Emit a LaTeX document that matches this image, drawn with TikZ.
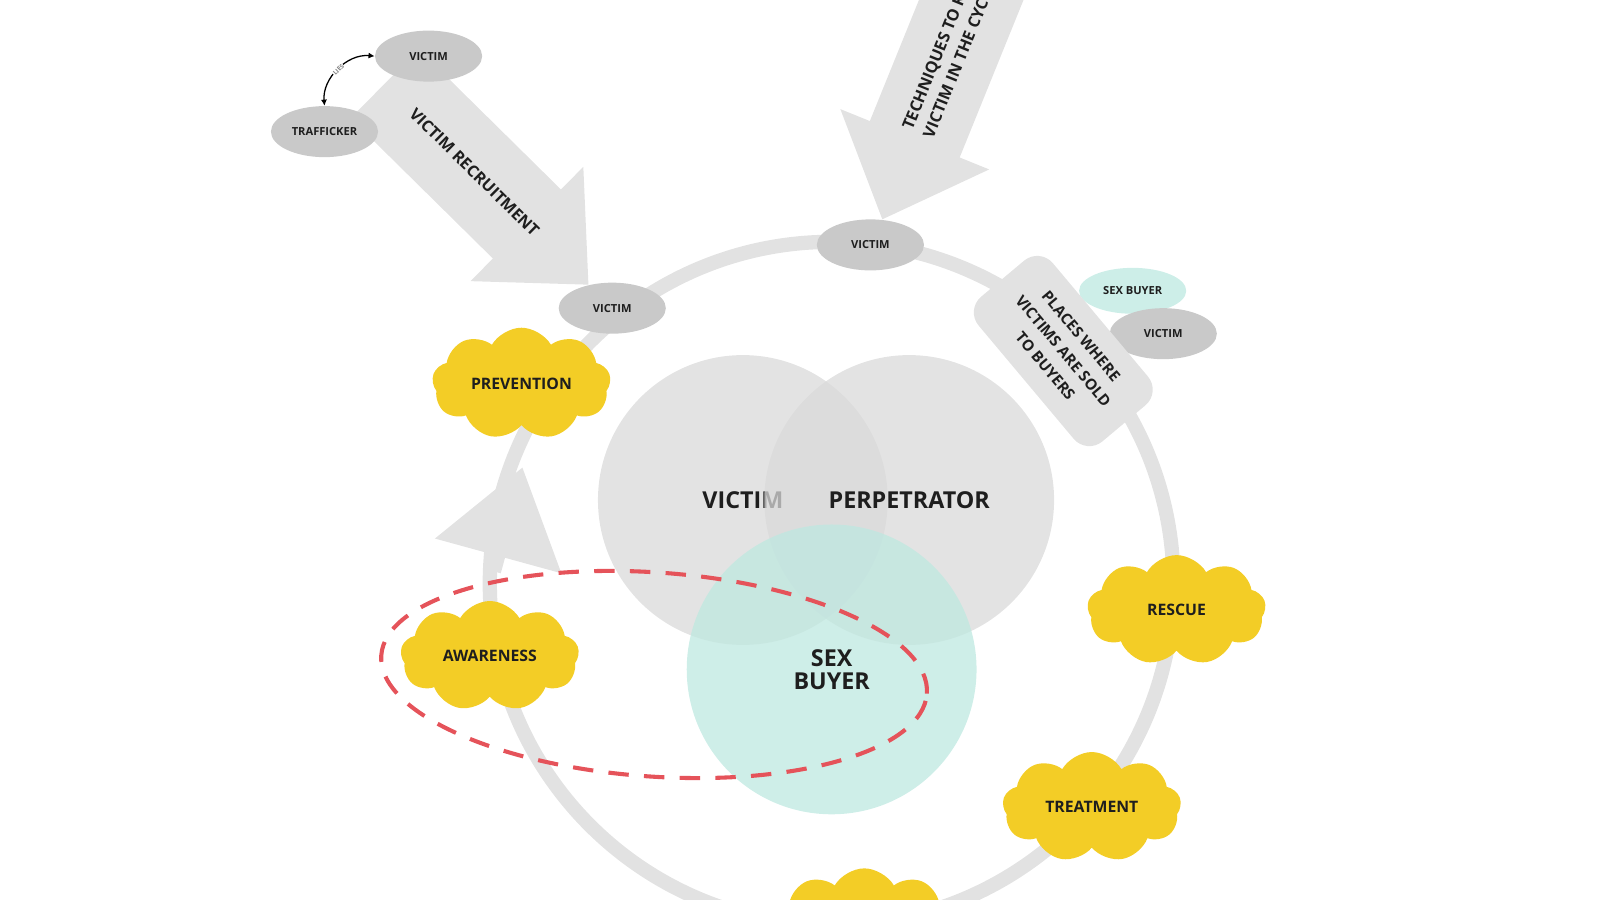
\documentclass[tikz,border=0pt]{standalone}
\usepackage{fontspec}
\setmainfont{Open Sans}
\usetikzlibrary{shapes.geometric,shapes.symbols,arrows.meta,backgrounds}
\definecolor{ringgray}{RGB}{226,226,226}
\definecolor{pillgray}{RGB}{201,201,201}
\definecolor{venngray}{RGB}{218,218,218}
\definecolor{vennteal}{RGB}{190,232,224}
\definecolor{pillteal}{RGB}{205,238,232}
\definecolor{cloudyellow}{RGB}{243,205,38}
\definecolor{dashred}{RGB}{229,83,90}
\definecolor{inkdark}{RGB}{30,30,30}

\begin{document}
\begin{tikzpicture}[x=0.2mm,y=-0.2mm,
    pill/.style={ellipse,fill=pillgray,minimum width=21mm,minimum height=10mm,inner sep=0pt,
        font=\fontsize{6.2}{7}\selectfont\bfseries,text=inkdark},
    puff/.style={cloud,cloud puffs=9,cloud puff arc=120,aspect=1.6,fill=cloudyellow,
        minimum width=35mm,minimum height=21.6mm,inner sep=0pt,
        font=\fontsize{8.8}{10}\selectfont\bfseries,text=inkdark},
    venn/.style={circle,minimum size=56.8mm,inner sep=0pt,fill opacity=0.75,text opacity=1,
        font=\fontsize{13}{15}\selectfont\bfseries,text=inkdark},
    ringline/.style={ringgray,line width=2.8mm},
    bigarrow/.style={ringgray,line width=19mm,-{Triangle[length=17mm,width=30.4mm]}},
    arrowtext/.style={text=inkdark,font=\fontsize{9}{12.5}\selectfont\bfseries},
    placebox/.style={fill=ringgray,rounded corners=4mm,minimum width=37mm,minimum height=19mm,
        align=center,text=inkdark,font=\fontsize{8.5}{13}\selectfont\bfseries}]
\useasboundingbox (0,0) rectangle (1568,882);
\clip (0,0) rectangle (1568,882);

\coordinate (ringc) at (815,572);
\coordinate (recstart) at (377,82);
\coordinate (techstart) at (968,-40);
\coordinate (loopa) at (484,560);
\coordinate (loopb) at (512,458);

\node[venn,fill=venngray] (vcirc) at (728,490) {VICTIM};
\node[venn,fill=venngray] (pcirc) at (891,490) {PERPETRATOR};
\node[venn,fill=vennteal,align=center] (bcirc) at (815,656) {SEX\\[-2pt]BUYER};

\node[pill] (traff) at (318,129) {TRAFFICKER};
\node[pill] (vic1) at (420,55) {VICTIM};
\node[pill] (vic2) at (600,302) {VICTIM};
\node[pill] (vic3) at (853,240) {VICTIM};
\node[pill,fill=pillteal,minimum height=9mm] (buyer) at (1110,285) {SEX BUYER};
\node[pill] (vic4) at (1140,327) {VICTIM};
\node[placebox,rotate=-50] (places) at (1042,344) {PLACES WHERE\\VICTIMS ARE SOLD\\TO BUYERS};

\draw[dashred,line width=0.8mm,dash pattern=on 4mm off 3mm,rotate around={-4:(641,661)}]
    (641,661) ellipse[x radius=53.6mm,y radius=20mm];

\node[puff] (prev) at (511,376) {PREVENTION};
\node[puff] (aware) at (480,643) {AWARENESS};
\node[puff] (rescue) at (1153,598) {RESCUE};
\node[puff] (treat) at (1070,791) {TREATMENT};
\node[puff] (lowcloud) at (847,905) {};

\draw[<->,>={Latex[length=1.2mm,width=1.2mm]},line width=0.25mm] (vic1.west) to[bend right=50]
    node[sloped,fill=white,inner sep=0.3pt,text=gray,font=\fontsize{3.5}{4}\selectfont\bfseries] {LIES} (traff.north);

\begin{scope}[on background layer]
\draw[ringline] (ringc) circle[radius=67mm];
\draw[ringline,-{Triangle[length=18mm,width=25mm]}] (loopa) -- (loopb);
\draw[bigarrow] (recstart) -- (vic2) node[arrowtext,pos=0.44,sloped] {VICTIM RECRUITMENT};
\draw[bigarrow] (techstart) -- (vic3.65) node[arrowtext,pos=0.86,sloped,anchor=west,align=left] {TECHNIQUES TO KEEP\\VICTIM IN THE CYCLE};
\end{scope}
\end{tikzpicture}
\end{document}
